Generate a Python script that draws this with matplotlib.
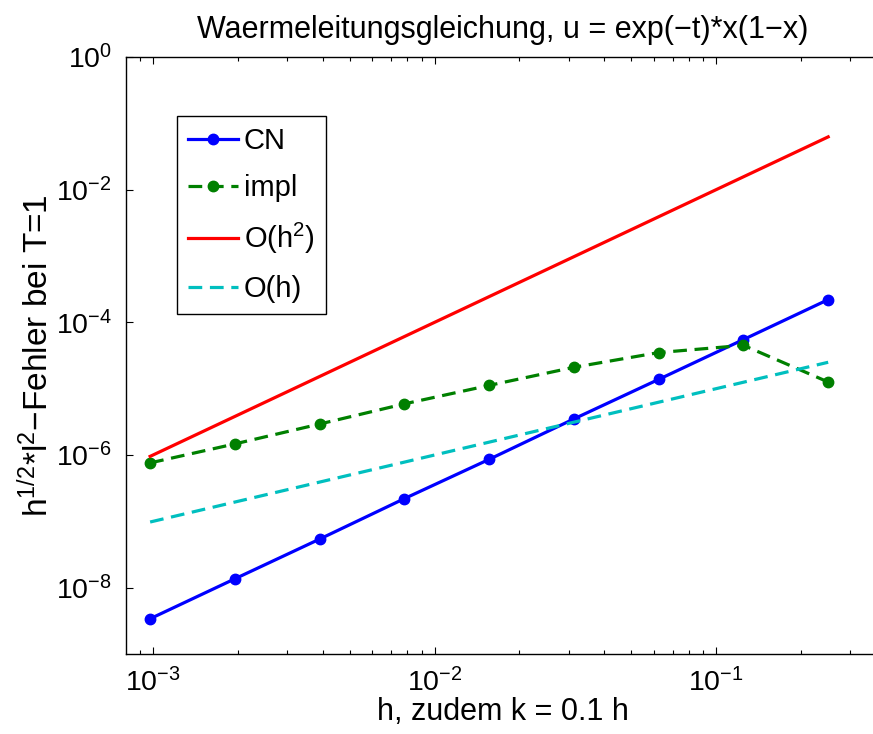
import matplotlib
matplotlib.use("Agg")
import matplotlib.pyplot as plt
import numpy as np
from matplotlib.ticker import LogLocator, NullLocator, FixedLocator

plt.rcParams['font.family'] = ['Liberation Sans', 'DejaVu Sans']
plt.rcParams['mathtext.fontset'] = 'custom'
plt.rcParams['mathtext.rm'] = 'Liberation Sans'
plt.rcParams['mathtext.it'] = 'Liberation Sans:italic'
plt.rcParams['mathtext.bf'] = 'Liberation Sans:bold'

# data
h = [1/1024, 1/512, 1/256, 1/128, 1/64, 1/32, 1/16, 1/8, 1/4]
err_cn = [3.4e-9, 1.36e-8, 5.4e-8, 2.2e-7, 8.6e-7, 3.5e-6, 1.38e-5, 5.5e-5, 2.2e-4]
err_impl = [7.6e-7, 1.47e-6, 2.93e-6, 5.9e-6, 1.12e-5, 2.1e-5, 3.5e-5, 4.5e-5, 1.26e-5]
ref_h2 = [v**2 for v in h]
ref_h1 = [1e-4 * v for v in h]

W, H = 873, 734
fig = plt.figure(figsize=(W/100, H/100), dpi=100)
ax = fig.add_axes([126/W, 1-654/H, (880-126)/W, (654-57)/H])

lw = 2.3
dash = (4.3, 2.4)
ax.plot(h, err_cn, '-', color=(0, 0, 1), lw=lw, marker='o', ms=7.5, label='CN')
ax.plot(h, err_impl, '--', color=(0, 0.5, 0), lw=lw, marker='o', ms=7.5, dashes=dash, label='impl')
ax.plot(h, ref_h2, '-', color=(1, 0, 0), lw=lw, label=r'O(h$^{2}$)')
ax.plot(h, ref_h1, '--', color=(0, 0.75, 0.75), lw=lw, dashes=dash, label='O(h)')

ax.set_xscale('log')
ax.set_yscale('log')
ax.set_xlim(10**-3.096, 10**-0.418)
ax.set_ylim(1e-9, 1)
ax.yaxis.set_major_locator(FixedLocator([1e0, 1e-2, 1e-4, 1e-6, 1e-8]))
ax.yaxis.set_minor_locator(NullLocator())
ax.xaxis.set_major_locator(LogLocator(base=10, numticks=10))
ax.xaxis.set_minor_locator(LogLocator(base=10, subs=np.arange(2, 10), numticks=10))

ax.tick_params(which='both', direction='in', top=True, right=True, labelsize=20.5, width=0.8)
ax.tick_params(which='major', length=5, pad=10)
ax.tick_params(which='minor', length=3)
for s in ax.spines.values():
    s.set_linewidth(1.0)

ax.set_title('Waermeleitungsgleichung, u = exp(\u2212t)*x(1\u2212x)', fontsize=22, pad=14)
ax.set_xlabel('h, zudem k = 0.1 h', fontsize=22, labelpad=0)
ax.set_ylabel('h$^{1/2}$*l$^{2}$\u2212Fehler bei T=1', fontsize=24, labelpad=1)

leg = ax.legend(loc='upper left', bbox_to_anchor=(0.0676, 0.901), borderaxespad=0,
                fontsize=21, fancybox=False, framealpha=1, edgecolor='black',
                handlelength=1.71, handletextpad=0.2, labelspacing=0.65, borderpad=0.38)
leg.get_frame().set_linewidth(1.0)

fig.savefig('out.png', dpi=100)
